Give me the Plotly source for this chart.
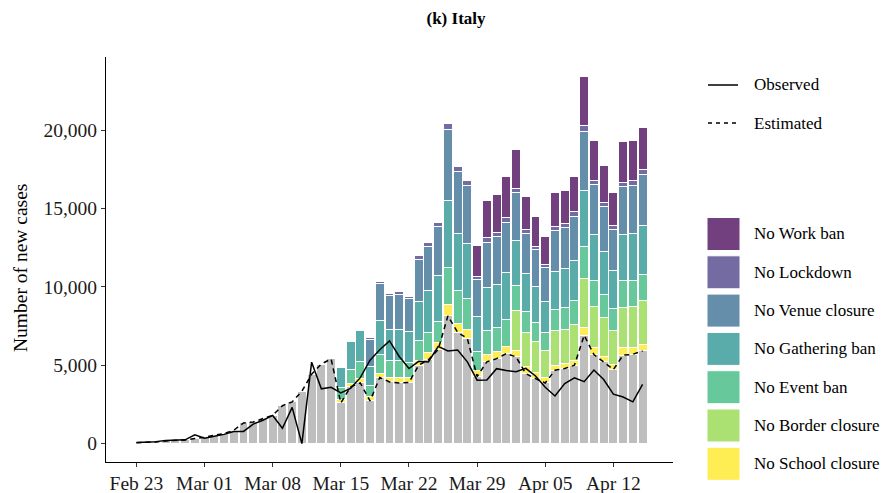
import pandas as pd
import plotly.graph_objects as go

# daily values (Italy, Feb 23 - Apr 15 2020)
dates = pd.date_range("2020-02-23", periods=53)

observed = [77, 93, 125, 205, 238, 240, 566, 342, 466, 587, 769, 778, 1247,
            1492, 1797, 977, 2313, 0, 5198, 3497, 3590, 3233, 3526, 4207,
            5322, 5986, 6557, 5560, 4789, 5249, 5210, 6203, 5909, 5974, 5217,
            4050, 4053, 4782, 4668, 4585, 4805, 4316, 3599, 3039, 3836, 4204,
            3951, 4694, 4092, 3153, 2972, 2667, 3786]

estimated = [60, 70, 100, 170, 210, 230, 320, 400, 530, 640, 850, 1320, 1380,
             1600, 1810, 2420, 2660, 3340, 4430, 5080, 5400, 2595, 3615, 3870,
             2720, 4215, 3935, 3870, 3900, 5000, 5350, 6000, 8150, 7100, 6705,
             4280, 5215, 5425, 5745, 5530, 4470, 4150, 3870, 4680, 4790, 5000,
             6915, 5680, 5215, 4725, 5640, 5700, 5915]

# extra cases without each intervention (stacked on top of the estimate)
school_start = "2020-03-15"
no_school = [245, 215, 280, 270, 255, 280, 345, 300, 300, 450, 450, 750, 540,
             555, 400, 445, 470, 470, 430, 425, 380, 320, 320, 320, 320, 465,
             450, 360, 340, 465, 450, 425]

border_start = "2020-04-02"
no_border = [2510, 2170, 2000, 1725, 2190, 2170, 2280, 3130, 2595, 2445, 2150,
             2600, 2620, 2765]

event_start = "2020-03-15"
no_event = [760, 890, 1085, 730, 1210, 1105, 1060, 950, 1300, 1265, 1320, 2340,
            2105, 1975, 1190, 1530, 1510, 1705, 1620, 1340, 1215, 1150, 1365,
            1380, 1505, 2045, 1685, 1470, 1385, 1680, 1660, 1705]

gathering_start = "2020-03-15"
no_gathering = [1230, 1770, 1955, 1180, 2150, 1960, 2025, 1980, 2490, 2685,
                2980, 4250, 3665, 3535, 2215, 2745, 2765, 3000, 2850, 2450,
                2255, 2020, 2445, 2490, 2600, 3575, 2955, 2770, 2445, 2940,
                2955, 3110]

venue_start = "2020-03-18"
no_venue = [1740, 2385, 2150, 2235, 2105, 2660, 2850, 3125, 4560, 3935, 3705,
            2385, 2875, 3025, 3210, 3060, 2555, 2390, 2155, 2620, 2640, 2810,
            3815, 3175, 2850, 2620, 3065, 3110, 3250]

lockdown_start = "2020-03-18"
no_lockdown = [150, 150, 150, 145, 170, 230, 235, 235, 380, 315, 295, 210, 320,
               295, 280, 280, 255, 210, 170, 210, 255, 275, 365, 275, 300, 230,
               295, 300, 320]

work_start = "2020-03-29"
no_work = [1940, 2370, 2430, 2660, 2495, 2085, 1915, 1785, 2180, 2135, 2235,
           3100, 2555, 2365, 2115, 2575, 2575, 2670]

npis = [
    ("No School closure", school_start, no_school, "#FEED53"),
    ("No Border closure", border_start, no_border, "#ABE173"),
    ("No Event ban", event_start, no_event, "#67C99B"),
    ("No Gathering ban", gathering_start, no_gathering, "#59ACA9"),
    ("No Venue closure", venue_start, no_venue, "#648EAA"),
    ("No Lockdown", lockdown_start, no_lockdown, "#736BA2"),
    ("No Work ban", work_start, no_work, "#73407F"),
]

FONT = "Liberation Serif"

# plot area in pixels, used to place the hand-made legend
W, H = 882, 493
L, R, T, B = 106, 673, 57, 462


def px_x(p):
    return (p - L) / (R - L)


def px_y(p):
    return (B - p) / (B - T)


fig = go.Figure()
fig.add_trace(go.Bar(x=dates, y=estimated, marker_color="#BEBEBE",
                     marker_line=dict(color="white", width=1), name="Estimated"))
for name, start, vals, col in npis:
    fig.add_trace(go.Bar(x=pd.date_range(start, periods=len(vals)), y=vals,
                         marker_color=col, marker_line=dict(color="white", width=1),
                         name=name))

fig.add_trace(go.Scatter(x=dates, y=estimated, mode="lines",
                         line=dict(color="black", width=1.5, dash="5px,4px")))
fig.add_trace(go.Scatter(x=dates, y=observed, mode="lines",
                         line=dict(color="black", width=1.5)))

fig.update_layout(
    width=W, height=H,
    barmode="stack", bargap=0.08,
    showlegend=False,
    plot_bgcolor="white", paper_bgcolor="white",
    margin=dict(l=L, r=W - R, t=T, b=H - B, autoexpand=False),
    font=dict(family=FONT, size=19, color="#1a1a1a"),
    title=dict(text="<b>(k) Italy</b>", x=456 / W, xref="container",
               y=1 - 18 / H, yref="container", xanchor="center", yanchor="middle",
               font=dict(family=FONT, size=17, color="black")),
)
fig.update_xaxes(
    range=["2020-02-19 21:00", "2020-04-18 03:00"],
    tickvals=pd.date_range("2020-02-23", "2020-04-12", freq="7D"),
    tickformat="%b %d",
    ticks="outside", ticklen=4, tickcolor="#333",
    showline=True, linecolor="black", linewidth=1,
    showgrid=False, zeroline=False, automargin=False,
    tickfont=dict(size=19.5),
)
fig.update_yaxes(
    range=[-1175, 24675],
    tickvals=[0, 5000, 10000, 15000, 20000],
    tickformat=",d",
    ticks="outside", ticklen=4, tickcolor="#333",
    showline=True, linecolor="black", linewidth=1,
    showgrid=False, zeroline=False, automargin=False,
    tickfont=dict(size=19.5),
)

# y axis title
fig.add_annotation(text="Number of new cases", xref="paper", yref="paper",
                   x=px_x(20), y=px_y(268), textangle=-90, showarrow=False,
                   xanchor="center", yanchor="middle",
                   font=dict(size=19.5, color="black"))

# legend: line types
for label, dash, yy in [("Observed", "solid", 85), ("Estimated", "4px,4px", 123)]:
    fig.add_shape(type="line", xref="paper", yref="paper",
                  x0=px_x(708), x1=px_x(738), y0=px_y(yy), y1=px_y(yy),
                  line=dict(color="black", width=1.5, dash=dash))
    fig.add_annotation(text=label, xref="paper", yref="paper",
                       x=px_x(752), y=px_y(yy), xanchor="left", yanchor="middle",
                       showarrow=False, font=dict(size=17, color="black"))

# legend: fill boxes, top to bottom
for k, (name, start, vals, col) in enumerate(reversed(npis)):
    cy = 234 + k * 38.3
    fig.add_shape(type="rect", xref="paper", yref="paper",
                  x0=px_x(707), x1=px_x(740), y0=px_y(cy - 16.5), y1=px_y(cy + 16.5),
                  fillcolor=col, line=dict(color="white", width=1))
    fig.add_annotation(text=name, xref="paper", yref="paper",
                       x=px_x(752), y=px_y(cy), xanchor="left", yanchor="middle",
                       showarrow=False, font=dict(size=17, color="black"))

# drop the page's default body margin so the figure sits at the window corner
fig.write_html("out.html",
               config={"displayModeBar": False},
               post_script="document.body.style.margin='0';"
                           "document.body.style.overflow='hidden';")
